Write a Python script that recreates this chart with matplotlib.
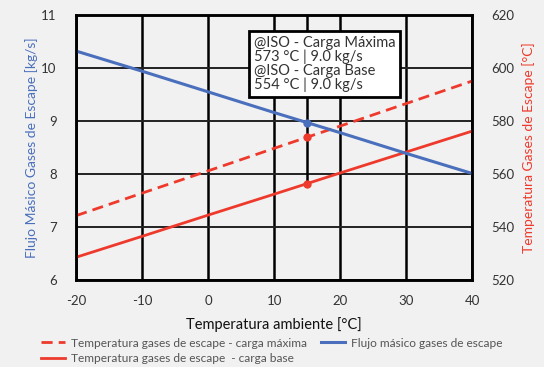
import numpy as np
import matplotlib
matplotlib.use("Agg")
import matplotlib.pyplot as plt

plt.rcParams['font.family'] = ['Lato', 'DejaVu Sans']
plt.rcParams['axes.unicode_minus'] = False

# datos
t_amb = [-20, -10, 0, 10, 15, 20, 30, 40]
flujo = [10.32, 9.94, 9.55, 9.16, 8.97, 8.78, 8.39, 8.01]
temp_max = [544.3, 552.8, 561.2, 569.7, 573.9, 578.1, 586.6, 595.1]
temp_base = [528.6, 536.5, 544.5, 552.4, 556.4, 560.4, 568.3, 576.2]
t_iso = 15
flujo_iso = 8.97
temp_max_iso = 573.9
temp_base_iso = 556.4

texto_caja = "@ISO - Carga Máxima\n573 °C | 9.0 kg/s\n@ISO - Carga Base\n554 °C | 9.0 kg/s"

azul = '#4a6fbd'
rojo = '#ee3a2c'
fondo = '#f1f1f1'
gris = '#333333'

fig = plt.figure(figsize=(5.44, 3.67), dpi=100, facecolor=fondo)
ax = fig.add_axes([0.14, 0.237, 0.728, 0.722])
ax.set_facecolor(fondo)
ax2 = ax.twinx()

ax.set_xlim(-20, 40)
ax.set_ylim(6, 11)
ax2.set_ylim(520, 620)
ax.set_xticks(range(-20, 41, 10))
ax.set_yticks(range(6, 12))
ax2.set_yticks(range(520, 621, 20))

ax.grid(True, axis='x', color='black', lw=1.8)
ax.grid(True, axis='y', color='#222222', lw=1.4)
ax.set_axisbelow(True)

# linea vertical en condicion ISO
ax2.plot([t_iso, t_iso], [temp_base_iso, 620], color='black', lw=1.8, zorder=1)

l1, = ax2.plot(t_amb, temp_max, color=rojo, lw=2, ls=(0, (4, 2.2)),
               label='Temperatura gases de escape - carga máxima')
l2, = ax2.plot(t_amb, temp_base, color=rojo, lw=2,
               label='Temperatura gases de escape  - carga base')
l3, = ax2.plot(t_amb, [520 + (v - 6) * 20 for v in flujo], color=azul, lw=2.2,
               label='Flujo másico gases de escape')
ax2.plot([t_iso], [temp_max_iso], 'o', color=rojo, ms=5)
ax2.plot([t_iso], [temp_base_iso], 'o', color=rojo, ms=5)
ax2.plot([t_iso], [520 + (flujo_iso - 6) * 20], 'o', color=azul, ms=5)

for a in (ax, ax2):
    a.tick_params(length=0, labelsize=9.5, labelcolor=gris)
    for s in a.spines.values():
        s.set_color('black')
        s.set_linewidth(1.8)
ax.tick_params(axis='y', pad=14)
ax2.tick_params(axis='y', pad=14)
ax.tick_params(axis='x', pad=11)

ax.set_ylabel('Flujo Másico Gases de Escape [kg/s]', color=azul, fontsize=10, labelpad=2)
ax2.set_ylabel('Temperatura Gases de Escape [°C]', color=rojo, fontsize=10, labelpad=5)
ax.set_xlabel('Temperatura ambiente [°C]', color='#111111', fontsize=10.5, labelpad=7)

ax2.text(6.9, 612.0, texto_caja, fontsize=10.5, color=gris, va='top', ha='left',
         linespacing=0.95, zorder=10,
         bbox=dict(boxstyle='square,pad=0.35', fc='white', ec='black', lw=2))

fig.legend(handles=[l1, l2, l3], loc='upper left', bbox_to_anchor=(0.066, 0.093),
           ncol=2, frameon=False, fontsize=8.6, labelcolor='#555555',
           handlelength=2.0, columnspacing=1.2, handletextpad=0.5,
           borderaxespad=0, labelspacing=0.35)

fig.savefig('out.png', dpi=100, facecolor=fondo)
